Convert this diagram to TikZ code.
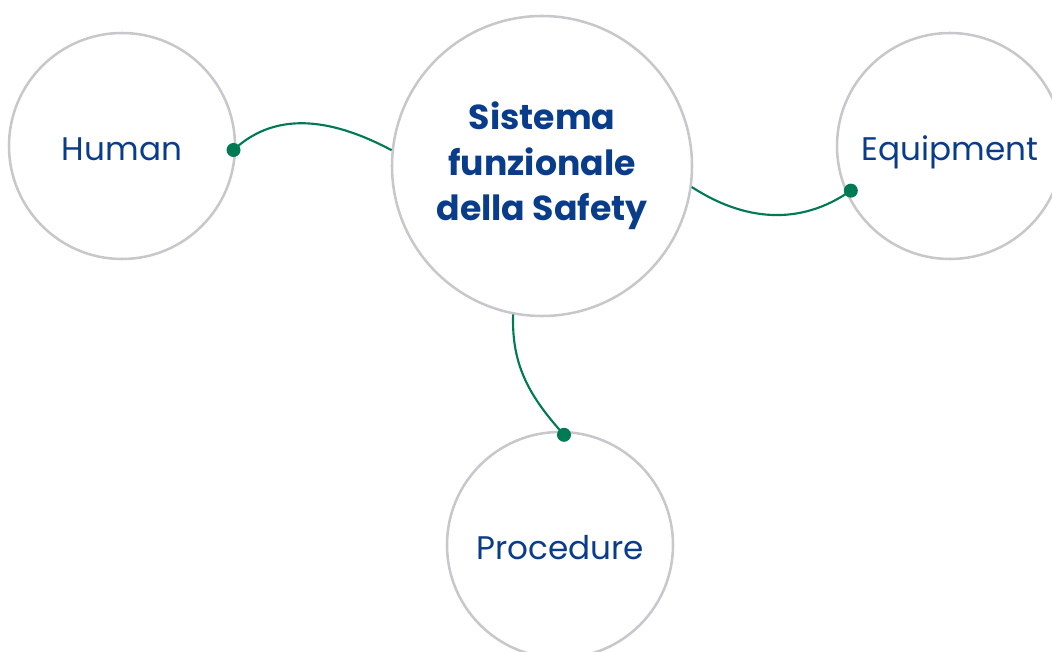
\documentclass[tikz,border=0pt]{standalone}
\usepackage{fontspec}
\setmainfont{Poppins}
\definecolor{ringgray}{RGB}{200,200,204}
\definecolor{safeblue}{RGB}{10,60,140}
\definecolor{linkgreen}{RGB}{0,122,82}
\tikzset{
  ring/.style={circle,draw=ringgray,line width=1.9pt,inner sep=0pt,text=safeblue,align=center},
  word/.style={font=\fontsize{24.5}{30}\selectfont,text depth=0pt,text height=22pt},
  link/.style={linkgreen,line width=1.6pt},
  dot/.style={circle,fill=linkgreen,inner sep=0pt,minimum size=10.5pt}
}
\begin{document}
\begin{tikzpicture}[x=0.75pt,y=-0.75pt]
\useasboundingbox (0,0) rectangle (1052,652);
\node[ring,word,minimum size=226*0.75pt] (human) at (122,146) {Human};
\node[ring,minimum size=300*0.75pt,font=\bfseries\fontsize{26}{34}\selectfont] (safety) at (542,166) {Sistema\\funzionale\\della Safety};
\node[ring,word,minimum size=226*0.75pt] (equip) at (950,146) {Equipment};
\node[ring,word,minimum size=226*0.75pt] (proc) at (560,545) {Procedure};
\coordinate (hd) at ([xshift=-2pt]human.-2);
\coordinate (ed) at ([xshift=4.5pt]equip.203);
\coordinate (pd) at ([yshift=-3pt]proc.88);
\draw[link] (hd) to[out=43,in=152] (safety.174);
\draw[link] (safety.-8) to[out=-33,in=215] (ed);
\draw[link] (safety.259) to[out=268,in=132] (pd);
\node[dot] at (hd) {};
\node[dot] at (ed) {};
\node[dot] at (pd) {};
\end{tikzpicture}
\end{document}
